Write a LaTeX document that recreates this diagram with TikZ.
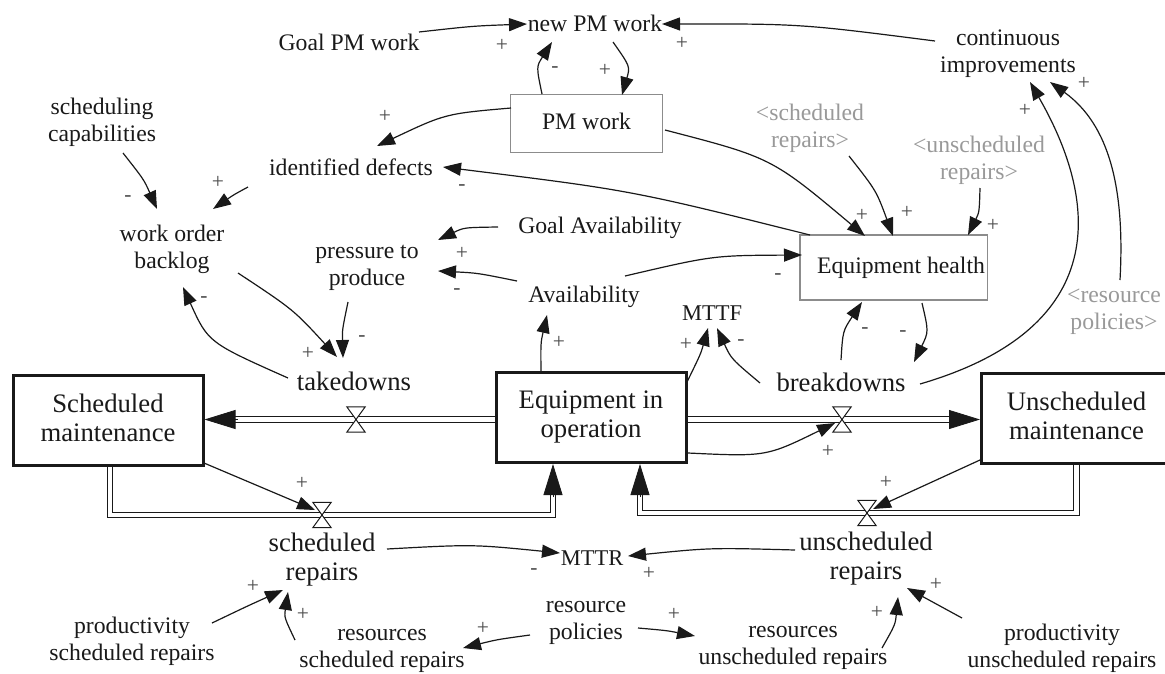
\documentclass[tikz,border=0pt]{standalone}
\usepackage{fontspec}
\setmainfont{Liberation Serif}
\usetikzlibrary{arrows.meta,calc}
\definecolor{ink}{gray}{0.1}
\definecolor{ghost}{gray}{0.6}
\definecolor{signc}{gray}{0.3}
\definecolor{boxgray}{gray}{0.55}
\newcommand\auxstrut{\rule[-6pt]{0pt}{24pt}}
\newcommand\bigstrut{\rule[-6.5pt]{0pt}{26.5pt}}
\newcommand\stockstrut{\rule[-6pt]{0pt}{30pt}}
\begin{document}
\begin{tikzpicture}[x=1pt,y=-1pt,
  aux/.style={font=\fontsize{23.7}{27}\selectfont,align=center,inner sep=0pt,text=ink,
    execute at begin node={\auxstrut},execute at end node={\auxstrut}},
  bigtxt/.style={font=\fontsize{26.7}{29}\selectfont,align=center,inner sep=0pt,text=ink,
    execute at begin node={\bigstrut},execute at end node={\bigstrut}},
  ghosttxt/.style={aux,text=ghost},
  stock/.style={font=\fontsize{26.7}{29}\selectfont,align=center,inner sep=0pt,text=ink,
    execute at begin node={\stockstrut},execute at end node={\stockstrut},
    draw=ink,line width=3pt,minimum width=190pt,minimum height=90pt},
  level/.style={aux,draw=boxgray,line width=1.3pt},
  valve/.style={inner sep=0pt,minimum width=18pt,minimum height=25pt},
  valveline/.style={draw=ink,fill=white,line width=1pt,line join=miter},
  link/.style={draw=ink,line width=1.2pt,-{Triangle[length=18pt,width=13pt]}},
  pipe/.style={draw=ink,double=white,double distance=4.2pt,line width=1.1pt},
  pipetip/.style={draw=ink,line width=0.8pt,-{Triangle[length=31pt,width=19pt]}},
  sign/.style={font=\fontsize{21.5}{21.5}\selectfont,inner sep=0pt,text=signc}
]
\useasboundingbox (0,0) rectangle (1165,673);

% ---------- auxiliaries ----------
\node[aux] (gpm) at (349,44) {Goal PM work};
\node[aux] (npm) at (595,25) {new PM work};
\node[aux] (ci) at (1008,54) {continuous\\improvements};
\node[aux] (sc) at (102,122.5) {scheduling\\capabilities};
\node[aux] (idf) at (351,169) {identified defects};
\node[aux] (wob) at (172,250) {work order\\backlog};
\node[aux] (ptp) at (367,268) {pressure to\\produce};
\node[aux] (ga) at (600,227) {Goal Availability};
\node[aux] (av) at (584,296) {Availability};
\node[aux,font=\fontsize{22.5}{27}\selectfont] (mttf) at (712,314) {MTTF};
\node[aux,font=\fontsize{22.5}{27}\selectfont] (mttr) at (592,559) {MTTR};
\node[aux] (rp) at (586,623.5) {resource\\policies};
\node[aux] (rsr) at (382,651.5) {resources\\scheduled repairs};
\node[aux] (rur) at (793,648.5) {resources\\unscheduled repairs};
\node[aux] (psr) at (132,642) {productivity\\scheduled repairs};
\node[aux] (pur) at (1062,649) {productivity\\unscheduled repairs};
\node[ghosttxt] (gsr) at (810,128.5) {<scheduled\\repairs>};
\node[ghosttxt] (gur) at (979,161) {<unscheduled\\repairs>};
\node[ghosttxt] (grp) at (1114,312) {<resource\\policies>};

% ---------- boxes ----------
\node[level,minimum width=151.6pt,minimum height=58.4pt] (pmw) at (586.5,123.5) {PM work};
\node[level,minimum width=187.7pt,minimum height=65pt] (eh) at (893.8,267.5) {\hspace*{14.4pt}Equipment health};
\node[stock] (sm) at (108,420.5) {Scheduled\\maintenance};
\node[stock] (eio) at (591,417.5) {Equipment in\\operation};
\node[stock] (um) at (1076.5,418.5) {Unscheduled\\maintenance};

% ---------- flow rates ----------
\node[bigtxt] (td) at (354,384) {takedowns};
\node[bigtxt] (bd) at (841,385) {breakdowns};
\node[bigtxt] (sr) at (322,559.5) {scheduled\\repairs};
\node[bigtxt] (ur) at (866,559) {unscheduled\\repairs};

\node[valve] (vt) at (356,419.5) {};
\node[valve] (vb) at (842,419.5) {};
\node[valve] (vs) at (322,515) {};
\node[valve] (vu) at (867,513) {};

% ---------- pipes ----------
\draw[pipe] (eio.west |- vt.center) -- ($(sm.east |- vt.center)+(28,0)$);
\draw[pipetip] ($(sm.east |- vt.center)+(33,0)$) -- (sm.east |- vt.center);
\draw[pipe] (eio.east |- vb.center) -- ($(um.west |- vb.center)+(-26,0)$);
\draw[pipetip] ($(um.west |- vb.center)+(-31,0)$) -- (um.west |- vb.center);
\draw[pipe] ($(sm.south)+(2,0)$) |- (vs.center) -| ($(eio.south)+(-38,28)$);
\draw[pipetip] ($(eio.south)+(-38,33)$) -- ($(eio.south)+(-38,0)$);
\draw[pipe] (um.south) |- (vu.center) -| ($(eio.south)+(49,28)$);
\draw[pipetip] ($(eio.south)+(49,33)$) -- ($(eio.south)+(49,0)$);

\foreach \v in {vt,vb,vs,vu}
  \filldraw[valveline] (\v.north west) -- (\v.north east) -- (\v.south west) -- (\v.south east) -- cycle;

% ---------- links ----------
\draw[link] ($(gpm)+(70,-12)$) .. controls (473,26) .. ($(npm)+(-68,-1)$);
\draw[link] ($(ci)+(-73,-13)$) .. controls (800.5,23.8) .. ($(npm)+(67,-1)$);
\draw[link] ($(pmw)+(-44.5,-29.5)$) .. controls (536.3,66.7) .. ($(npm)+(-43,17)$);
\draw[link] ($(npm)+(18,17)$) .. controls (630.2,66.5) .. ($(pmw)+(35.5,-28.5)$);
\draw[link] ($(pmw)+(-75.5,-15.5)$) .. controls (445.3,113.7) .. ($(idf)+(26,-23)$);
\draw[link] ($(idf)+(-103,18)$) .. controls (233.8,194.7) .. ($(wob)+(41,-41)$);
\draw[link] ($(sc)+(21,30.5)$) .. controls (144,179.7) .. ($(wob)+(-15,-41)$);
\draw[link] ($(eh)+(-83.8,-32.5)$) .. controls (631.2,190.3) .. ($(idf)+(92,-2)$);
\draw[link] ($(pmw)+(78.5,6.5)$) .. controls (771.7,157.7) .. ($(eh)+(-28.8,-31.5)$);
\draw[link] ($(gsr)+(39,27.5)$) .. controls (876.3,190.7) .. ($(eh)+(-0.8,-31.5)$);
\draw[link] ($(gur)+(1,27)$) .. controls (979.3,212.2) .. ($(eh)+(74.2,-32.5)$);
\draw[link] ($(bd)+(79,-1)$) .. controls (1102,331) and (1105,212.5) .. ($(ci)+(22,28)$);
\draw[link] ($(grp)+(6,-32)$) .. controls (1125,190) and (1110,125) .. ($(ci)+(42,28)$);
\draw[link] ($(ga)+(-102,0)$) .. controls (464,227.5) .. ($(ptp)+(71,-28)$);
\draw[link] ($(av)+(-67,-15)$) .. controls (477.5,273) .. ($(ptp)+(71,3)$);
\draw[link] ($(av)+(41,-20)$) .. controls (712.8,255.5) .. ($(eh)+(-91.8,-12.5)$);
\draw[link] ($(td)+(-66,-6)$) .. controls (208.2,342.5) .. ($(wob)+(11,37)$);
\draw[link] ($(wob)+(66,23)$) .. controls (293.5,309.7) .. ($(td)+(-17,-27)$);
\draw[link] ($(ptp)+(-19,34)$) .. controls (342.2,330) .. ($(td)+(-11,-26)$);
\draw[link] ($(eio)+(-50,-45.5)$) .. controls (540.7,342.8) .. ($(av)+(-37,19)$);
\draw[link] ($(eio)+(96,-35.5)$) .. controls (700.8,353.7) .. ($(mttf)+(-4,14)$);
\draw[link] ($(bd)+(-81,-2)$) .. controls (731.2,358.8) .. ($(mttf)+(5,14)$);
\draw[link] ($(bd)+(0,-25)$) .. controls (842.8,331) .. ($(eh)+(-31.8,34.5)$);
\draw[link] ($(eh)+(28.2,35.5)$) .. controls (928.7,331.8) .. ($(bd)+(73,-23)$);
\draw[link] ($(eio)+(97,35.5)$) .. controls (766.2,456.7) .. ($(vb)+(-7,3.5)$);
\draw[link] ($(sm)+(96,42.5)$) -- ($(vs)+(-7,-5)$);
\draw[link] ($(um)+(-96.5,41.5)$) -- ($(vu)+(6,-4)$);
\draw[link] ($(sr)+(65,-10.5)$) .. controls (472.8,544.3) .. ($(mttr)+(-32,-6)$);
\draw[link] ($(ur)+(-71,-9)$) .. controls (710.8,547.7) .. ($(mttr)+(36,-3)$);
\draw[link] ($(psr)+(80,-19)$) .. controls (247.5,606) .. ($(sr)+(-39,30.5)$);
\draw[link] ($(rsr)+(-87,-11.5)$) .. controls (284.2,617.3) .. ($(sr)+(-34,32.5)$);
\draw[link] ($(rp)+(-56,11.5)$) .. controls (497.2,639.5) .. ($(rsr)+(81,-3.5)$);
\draw[link] ($(rp)+(52,4.5)$) .. controls (666.5,630.5) .. ($(rur)+(-98,-12.5)$);
\draw[link] ($(rur)+(89,-0.5)$) .. controls (895.3,624.5) .. ($(ur)+(32,38)$);
\draw[link] ($(pur)+(-100,-31)$) -- ($(ur)+(41,29)$);

% ---------- polarity signs ----------
\node[sign] (s1) at (502,45) {+};
\node[sign] (s2) at (682,43) {+};
\node[sign] (s3) at (555,70) {-};
\node[sign] (s4) at (605,70) {+};
\node[sign] (s5) at (385,116) {+};
\node[sign] (s6) at (218,182) {+};
\node[sign] (s7) at (128,199) {-};
\node[sign] (s8) at (462,188) {-};
\node[sign] (s9) at (862,215) {+};
\node[sign] (s10) at (907,212) {+};
\node[sign] (s11) at (993,225) {+};
\node[sign] (s12) at (1025,110) {+};
\node[sign] (s13) at (1084,83) {+};
\node[sign] (s14) at (462,253) {+};
\node[sign] (s15) at (457,292) {-};
\node[sign] (s16) at (778,277) {-};
\node[sign] (s17) at (204,300) {-};
\node[sign] (s18) at (308,353) {+};
\node[sign] (s19) at (362,339) {-};
\node[sign] (s20) at (559,342) {+};
\node[sign] (s21) at (686,344) {+};
\node[sign] (s22) at (741,343) {-};
\node[sign] (s23) at (865,331) {-};
\node[sign] (s24) at (903,334) {-};
\node[sign] (s25) at (828,451) {+};
\node[sign] (s26) at (302,483) {+};
\node[sign] (s27) at (886,482) {+};
\node[sign] (s28) at (534,572) {-};
\node[sign] (s29) at (649,573) {+};
\node[sign] (s30) at (253,586) {+};
\node[sign] (s31) at (303,614) {+};
\node[sign] (s32) at (877,612) {+};
\node[sign] (s33) at (936,584) {+};
\node[sign] (s34) at (483,628) {+};
\node[sign] (s35) at (674,614) {+};
\end{tikzpicture}
\end{document}
